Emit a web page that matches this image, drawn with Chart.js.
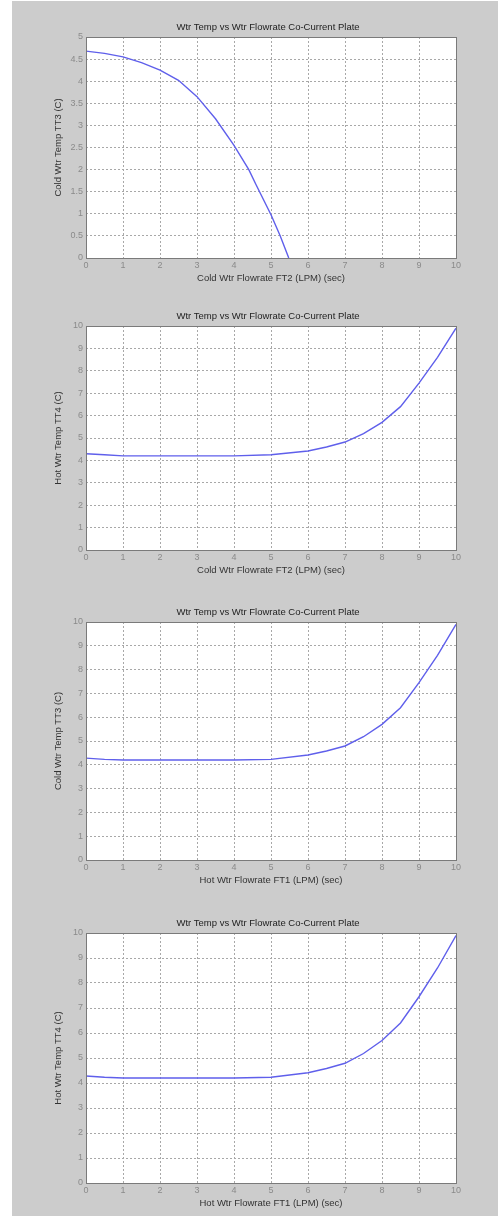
<!DOCTYPE html>
<html>
<head>
<meta charset="utf-8">
<script src="https://cdn.jsdelivr.net/npm/chart.js@4"></script>
<style>
  body { margin: 0; background: #fff; width: 498px; height: 1216px; position: relative; overflow: hidden; }
  #bg { position: absolute; left: 12px; top: 1px; width: 486px; height: 1215px; background: #cccccc; }
  canvas { position: absolute; left: 12px; }
</style>
</head>
<body>
<div id="bg"></div>
<canvas id="c1" style="top:0px"></canvas>
<canvas id="c2" style="top:288px"></canvas>
<canvas id="c3" style="top:590px"></canvas>
<canvas id="c4" style="top:893px"></canvas>
<script>
// data
const chartTitle = 'Wtr Temp vs Wtr Flowrate Co-Current Plate';

const flowA = [0, 0.5, 1, 1.5, 2, 2.5, 3, 3.5, 4, 4.4, 4.6, 5, 5.25, 5.48];
const coldTT3vsFT2 = [4.68, 4.63, 4.55, 4.42, 4.25, 4.02, 3.65, 3.15, 2.55, 2.0, 1.65, 0.98, 0.5, 0];

const flowB = [0, 0.5, 1, 2, 3, 4, 5, 6, 6.5, 7, 7.5, 8, 8.5, 9, 9.5, 10];
const hotTT4vsFT2 = [4.3, 4.25, 4.2, 4.2, 4.2, 4.2, 4.25, 4.42, 4.6, 4.82, 5.2, 5.7, 6.4, 7.45, 8.6, 9.9];
const coldTT3vsFT1 = [4.28, 4.23, 4.2, 4.2, 4.2, 4.2, 4.23, 4.41, 4.58, 4.79, 5.18, 5.7, 6.4, 7.45, 8.6, 9.9];
const hotTT4vsFT1 = [4.28, 4.23, 4.2, 4.2, 4.2, 4.2, 4.23, 4.41, 4.58, 4.79, 5.18, 5.7, 6.4, 7.45, 8.6, 9.9];

const xTicks = [0, 1, 2, 3, 4, 5, 6, 7, 8, 9, 10];

const fontFam = '"Liberation Sans", Arial, sans-serif';

const frame = {
  id: 'frame',
  beforeDraw(chart) {
    const a = chart.chartArea, ctx = chart.ctx;
    ctx.save();
    ctx.fillStyle = '#fff';
    ctx.fillRect(a.left, a.top, a.right - a.left, a.bottom - a.top);
    ctx.restore();
  },
  afterDatasetsDraw(chart) {
    const a = chart.chartArea, ctx = chart.ctx;
    ctx.save();
    ctx.strokeStyle = '#7a7a7a';
    ctx.lineWidth = 1;
    ctx.strokeRect(Math.round(a.left) + 0.5, Math.round(a.top) + 0.5, Math.round(a.right - a.left), Math.round(a.bottom - a.top));
    ctx.fillStyle = '#222';
    ctx.font = '9.5px ' + fontFam;
    ctx.textAlign = 'center';
    ctx.fillText(chartTitle, (a.left + a.right) / 2 - 3, a.top - 7);
    ctx.restore();
  }
};

function makePanel(id, h, plotTop, plotBottom, xs, ys, yMax, yStep, xTitle, yTitle) {
  const cv = document.getElementById(id);
  cv.width = 486; cv.height = h;
  cv.style.width = '486px'; cv.style.height = h + 'px';
  const pts = xs.map((x, i) => ({ x: x, y: ys[i] }));
  return new Chart(cv.getContext('2d'), {
    type: 'line',
    data: { datasets: [{ data: pts, borderColor: 'rgb(95,95,235)', borderWidth: 1.4, pointRadius: 0, tension: 0, fill: false }] },
    options: {
      responsive: false,
      animation: false,
      layout: { padding: { left: 41, right: 42, top: plotTop, bottom: h - plotBottom - 26 } },
      plugins: { legend: { display: false }, tooltip: { enabled: false } },
      scales: {
        x: {
          type: 'linear', min: 0, max: 10,
          afterBuildTicks: s => { s.ticks = xTicks.map(v => ({ value: v })); },
          afterFit: s => { s.height = 26; },
          grid: { color: '#a8a8a8', drawTicks: false },
          border: { display: false, dash: [2, 2] },
          ticks: { color: '#8a8a8a', font: { size: 9, family: fontFam }, padding: 2, maxRotation: 0, autoSkip: false },
          title: { display: true, text: xTitle, color: '#333', font: { size: 9.5, family: fontFam }, padding: 0 }
        },
        y: {
          min: 0, max: yMax,
          afterFit: s => { s.width = 33; },
          grid: { color: '#a8a8a8', drawTicks: false },
          border: { display: false, dash: [2, 2] },
          ticks: { stepSize: yStep, color: '#8a8a8a', font: { size: 9, family: fontFam }, padding: 3, callback: v => String(v) },
          title: { display: true, text: yTitle, color: '#333', font: { size: 9.5, family: fontFam }, padding: 0 }
        }
      }
    },
    plugins: [frame]
  });
}

makePanel('c1', 288, 37, 258, flowA, coldTT3vsFT2, 5, 0.5, 'Cold Wtr Flowrate FT2 (LPM) (sec)', 'Cold Wtr Temp TT3 (C)');
makePanel('c2', 302, 38, 262, flowB, hotTT4vsFT2, 10, 1, 'Cold Wtr Flowrate FT2 (LPM) (sec)', 'Hot Wtr Temp TT4 (C)');
makePanel('c3', 303, 32, 270, flowB, coldTT3vsFT1, 10, 1, 'Hot Wtr Flowrate FT1 (LPM) (sec)', 'Cold Wtr Temp TT3 (C)');
makePanel('c4', 323, 40, 290, flowB, hotTT4vsFT1, 10, 1, 'Hot Wtr Flowrate FT1 (LPM) (sec)', 'Hot Wtr Temp TT4 (C)');
</script>
</body>
</html>
